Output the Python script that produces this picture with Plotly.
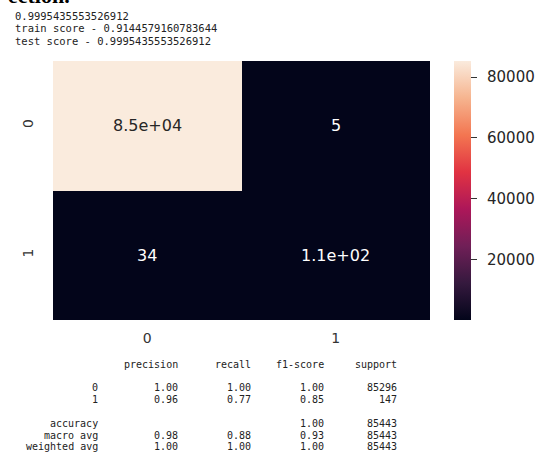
import plotly.graph_objects as go

# ---- data ----
classes = ["0", "1"]
conf_matrix = [[85291, 5],
               [34, 113]]
colorbar_ticks = [20000, 40000, 60000, 80000]

score_lines = ["0.9995435553526912",
               "train score - 0.9144579160783644",
               "test score - 0.9995435553526912"]

report_headers = ["precision", "recall", "f1-score", "support"]
report_rows = ["0", "1"]
report_precision = [1.00, 0.96]
report_recall = [1.00, 0.77]
report_f1 = [1.00, 0.85]
report_support = [85296, 147]
accuracy_f1 = 1.00
accuracy_support = 85443
macro_avg = [0.98, 0.88, 0.93, 85443]
weighted_avg = [1.00, 1.00, 1.00, 85443]

# ---- layout geometry (pixels) ----
W, H = 547, 453
L, R, T, B = 53, 436, 61, 320
PW, PH = R - L, B - T


def px(x):
    return (x - L) / PW


def py(y):
    return (B - y) / PH


rocket = [
    [0.0, "#03051A"],
    [1 / 7, "#35193E"],
    [2 / 7, "#701F57"],
    [3 / 7, "#AD1759"],
    [4 / 7, "#E13342"],
    [5 / 7, "#F37651"],
    [6 / 7, "#F6B48F"],
    [1.0, "#FAEBDD"],
]

zmin = min(min(r) for r in conf_matrix)
zmax = max(max(r) for r in conf_matrix)
text = [[format(v, ".2g") for v in row] for row in conf_matrix]

fig = go.Figure()
fig.add_trace(go.Heatmap(
    z=conf_matrix, x=classes, y=classes,
    colorscale=rocket, zmin=zmin, zmax=zmax,
    showscale=True,
    hoverinfo="skip",
    xgap=0, ygap=0,
    colorbar=dict(
        x=px(460), xanchor="left", xpad=0,
        y=0.5, yanchor="middle", ypad=0,
        len=1, lenmode="fraction", thickness=17,
        outlinewidth=0,
        tickmode="array", tickvals=colorbar_ticks,
        ticktext=["\u2002" + str(v) for v in colorbar_ticks],
        ticks="outside", ticklen=6, tickwidth=1, tickcolor="#333333",
        tickfont=dict(family="DejaVu Sans", size=15, color="#262626"),
    ),
))

# cell annotations (seaborn style: dark text on light, white on dark)
for i, row in enumerate(conf_matrix):
    for j, v in enumerate(row):
        frac = (v - zmin) / (zmax - zmin)
        fig.add_annotation(
            x=classes[j], y=classes[i], text=text[i][j], showarrow=False,
            font=dict(family="DejaVu Sans", size=16,
                      color="#262626" if frac > 0.5 else "#FFFFFF"),
        )

mono = "DejaVu Sans Mono"
txt_color = "#222222"

# score lines above chart
score_y = [16, 28.5, 41]
for s, yy in zip(score_lines, score_y):
    fig.add_annotation(xref="paper", yref="paper", x=px(12), y=py(yy),
                       xanchor="left", yanchor="middle", showarrow=False,
                       text=s.replace(" ", "\u00a0"),
                       font=dict(family=mono, size=10.5, color=txt_color))

# cropped document heading at very top (only its lower edge is visible)
fig.add_annotation(xref="paper", yref="paper", x=px(72), y=py(10),
                   xanchor="right", yanchor="bottom", showarrow=False,
                   text="<b>ection.</b>",
                   font=dict(family="Liberation Serif", size=22, color="#000000"))

# classification report: fields right-aligned at sklearn's monospace columns
char_w = 7.4
x0 = 12
col_end_chars = [12, 23, 33, 43, 53]   # right edge (in chars) of each column


def col_x(k):
    return x0 + col_end_chars[k] * char_w


rep_font = dict(family=mono, size=10, color=txt_color)
line_y0, line_dy = 364, 11.85


def put_row(k_line, fields):
    yy = line_y0 + k_line * line_dy
    for k, f in enumerate(fields):
        if f == "":
            continue
        fig.add_annotation(xref="paper", yref="paper", x=px(col_x(k)), y=py(yy),
                           xanchor="right", yanchor="middle", showarrow=False,
                           text=f.replace(" ", "\u00a0"), font=rep_font)


put_row(0, [""] + report_headers)
for idx, (name, p, r, f, s) in enumerate(zip(report_rows, report_precision,
                                             report_recall, report_f1,
                                             report_support)):
    put_row(2 + idx, [name, f"{p:.2f}", f"{r:.2f}", f"{f:.2f}", str(s)])
put_row(5, ["accuracy", "", "", f"{accuracy_f1:.2f}", str(accuracy_support)])
put_row(6, ["macro avg"] + [f"{v:.2f}" for v in macro_avg[:3]] + [str(macro_avg[3])])
put_row(7, ["weighted avg"] + [f"{v:.2f}" for v in weighted_avg[:3]] + [str(weighted_avg[3])])

fig.update_xaxes(showgrid=False, zeroline=False, showline=False,
                 ticks="outside", ticklen=5, tickcolor="rgba(0,0,0,0)",
                 tickfont=dict(family="DejaVu Sans", size=14, color="#333333"))
fig.update_yaxes(showgrid=False, zeroline=False, showline=False,
                 autorange="reversed", tickangle=-90,
                 ticks="outside", ticklen=13, tickcolor="rgba(0,0,0,0)",
                 tickfont=dict(family="DejaVu Sans", size=14, color="#333333"))

fig.update_layout(
    width=W, height=H,
    margin=dict(l=L, r=W - R, t=T, b=H - B, pad=0),
    paper_bgcolor="white", plot_bgcolor="white",
    showlegend=False,
)

fig.write_html("out.html",
               config={"displayModeBar": False},
               post_script="document.body.style.margin='0';document.body.style.overflow='hidden';")
